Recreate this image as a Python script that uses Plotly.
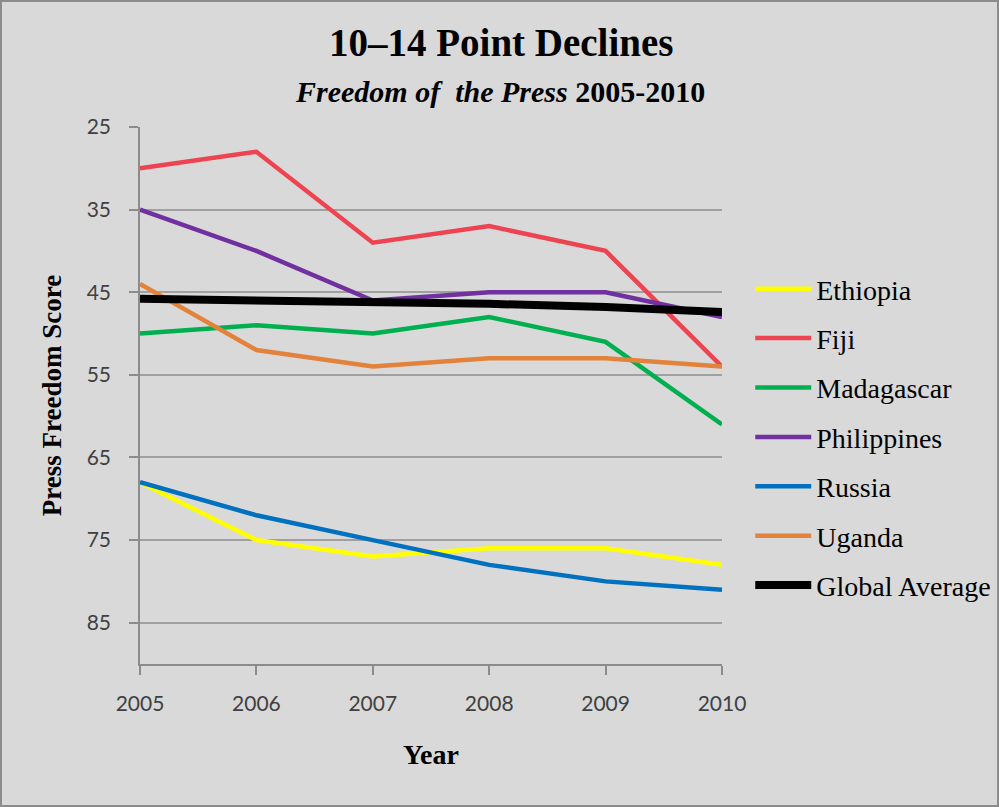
import plotly.graph_objects as go

years = [2005, 2006, 2007, 2008, 2009, 2010]
ethiopia = [68, 75, 77, 76, 76, 78]
fiji = [30, 28, 39, 37, 40, 54]
madagascar = [50, 49, 50, 48, 51, 61]
philippines = [35, 40, 46, 45, 45, 48]
russia = [68, 72, 75, 78, 80, 81]
uganda = [44, 52, 54, 53, 53, 54]
global_avg = [45.8, 46.0, 46.1, 46.4, 46.8, 47.4]
y_ticks = [25, 35, 45, 55, 65, 75, 85]

series = [
    ("Ethiopia", ethiopia, "#FFFF00", 4.5),
    ("Fiji", fiji, "#EE4452", 4.5),
    ("Madagascar", madagascar, "#00B050", 4.5),
    ("Philippines", philippines, "#7030A0", 4.5),
    ("Russia", russia, "#0070C0", 4.5),
    ("Uganda", uganda, "#E3823A", 4.5),
    ("Global Average", global_avg, "#000000", 8),
]

W, H = 999, 807
ML, MR, MT, MB = 140, 277, 127, 143
PW = W - ML - MR
PH = H - MT - MB

fig = go.Figure()
for name, vals, color, width in series:
    fig.add_trace(go.Scatter(
        x=years, y=vals, name=name, mode="lines",
        line=dict(color=color, width=width),
        legendgroup=name, cliponaxis=False,
    ))

serif = "Liberation Serif"
sans = "Lato"

fig.update_layout(
    width=W, height=H,
    margin=dict(l=ML, r=MR, t=MT, b=MB, autoexpand=False),
    paper_bgcolor="#D9D9D9",
    plot_bgcolor="#D9D9D9",
    showlegend=True,
    legend=dict(
        xref="container", yref="container",
        x=0.751, y=1 - 437 / H, xanchor="left", yanchor="middle",
        font=dict(family=serif, size=28, color="#000000"),
        bgcolor="rgba(0,0,0,0)",
        tracegroupgap=10,
        itemwidth=56,
    ),
    xaxis=dict(
        range=[2005, 2010],
        tickmode="array", tickvals=years, ticktext=[str(y) for y in years],
        showgrid=False, zeroline=False,
        showline=True, linecolor="#8C8C8C", linewidth=1.5,
        ticks="outside", ticklen=9, tickcolor="#8C8C8C", tickwidth=1.5,
        ticklabelstandoff=11,
        tickfont=dict(family=sans, size=21, color="#404040"),
        title=dict(text="<b>Year</b>", font=dict(family=serif, size=28, color="#000000"), standoff=30),
    ),
    yaxis=dict(
        range=[90, 25],
        tickmode="array", tickvals=y_ticks,
        showgrid=True, gridcolor="#A0A0A0", gridwidth=1.5,
        zeroline=False,
        showline=True, linecolor="#8C8C8C", linewidth=1.5,
        ticks="outside", ticklen=9, tickcolor="#8C8C8C", tickwidth=1.5,
        ticklabelstandoff=14,
        tickfont=dict(family=sans, size=21, color="#404040"),
        title=dict(text="<b>Press Freedom Score</b>", font=dict(family=serif, size=27, color="#000000"), standoff=17),
    ),
    annotations=[
        dict(text="<b>10–14 Point Declines</b>", xref="paper", yref="paper",
             x=(501 - ML) / PW, y=1 + (MT - 42) / PH, xanchor="center", yanchor="middle",
             showarrow=False, font=dict(family=serif, size=39, color="#000000")),
        dict(text="<b><i>Freedom of  the Press</i> 2005-2010</b>", xref="paper", yref="paper",
             x=(500 - ML) / PW, y=1 + (MT - 91) / PH, xanchor="center", yanchor="middle",
             showarrow=False, font=dict(family=serif, size=30, color="#000000")),
    ],
    shapes=[
        dict(type="rect", xref="paper", yref="paper",
             x0=(1 - ML) / PW, x1=(W - 1 - ML) / PW,
             y0=-(MB - 1) / PH, y1=1 + (MT - 1) / PH,
             line=dict(color="#8C8C8C", width=2), fillcolor="rgba(0,0,0,0)", layer="below"),
    ],
)

fig.write_html("out.html", config={"displayModeBar": False},
               post_script="document.body.style.margin='0';")
